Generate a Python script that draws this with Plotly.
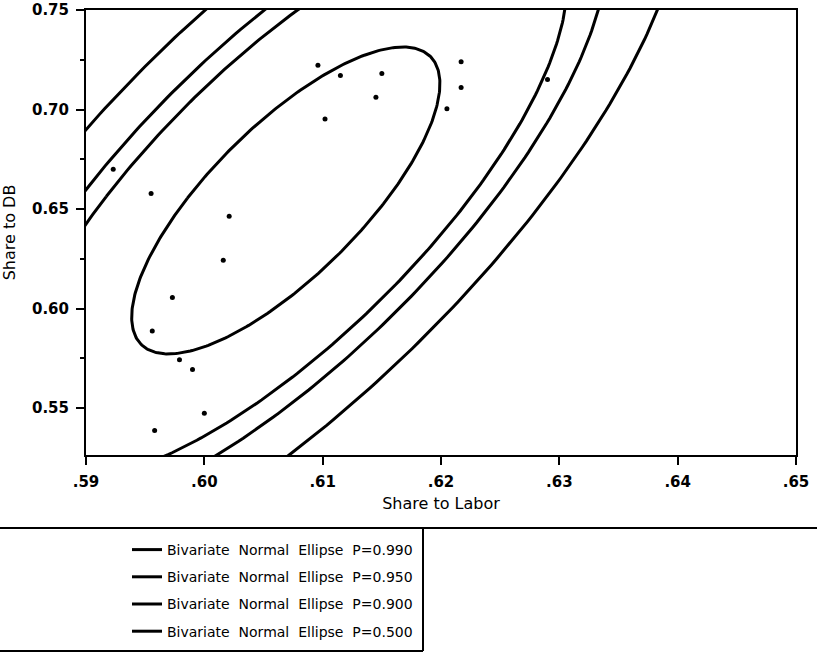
import numpy as np
import plotly.graph_objects as go

# Data
share_labor = [0.5923, 0.5955, 0.6021, 0.6096, 0.6115, 0.6150, 0.6145, 0.6102,
               0.6217, 0.6217, 0.6205, 0.6290, 0.6016, 0.5973, 0.5956, 0.5979,
               0.5990, 0.6000, 0.5958]
share_db = [0.670, 0.6578, 0.6464, 0.7222, 0.7171, 0.7181, 0.7061, 0.6952,
            0.7240, 0.7111, 0.7004, 0.7151, 0.6242, 0.6055, 0.5887, 0.5743,
            0.5693, 0.5474, 0.5387]
probabilities = [0.990, 0.950, 0.900, 0.500]
x_tick_vals = [0.59, 0.60, 0.61, 0.62, 0.63, 0.64, 0.65]
x_tick_text = [".59", ".60", ".61", ".62", ".63", ".64", ".65"]
y_tick_vals = [0.55, 0.60, 0.65, 0.70, 0.75]
y_tick_text = ["0.55", "0.60", "0.65", "0.70", "0.75"]

FONT = "DejaVu Sans, Liberation Sans, sans-serif"

# Bivariate normal ellipses from sample mean & covariance
xy = np.vstack([share_labor, share_db])
mu = xy.mean(axis=1)
cov = np.cov(xy)
vals, vecs = np.linalg.eigh(cov)
t = np.linspace(0, 2 * np.pi, 400)
circle = np.vstack([np.cos(t), np.sin(t)])

fig = go.Figure()
for p in probabilities:
    r = np.sqrt(-2 * np.log(1 - p))
    pts = vecs @ (np.sqrt(vals)[:, None] * circle) * r + mu[:, None]
    fig.add_trace(go.Scatter(
        x=pts[0], y=pts[1], mode="lines",
        line=dict(color="black", width=3),
        name=f"Bivariate  Normal  Ellipse  P={p:.3f}",
        legendgroup=str(p),
    ))

fig.add_trace(go.Scatter(
    x=share_labor, y=share_db, mode="markers",
    marker=dict(color="black", size=5),
    showlegend=False,
))

PL, PR, PT, PB = 86, 796, 10, 455   # plot area in pixels
PW, PH = PR - PL, PB - PT


def px_x(x):
    return (x - PL) / PW


def px_y(y):
    return (PB - y) / PH


fig.update_layout(
    width=817, height=657,
    margin=dict(l=PL, r=817 - PR, t=PT, b=657 - PB, autoexpand=False),
    paper_bgcolor="white", plot_bgcolor="white",
    font=dict(family=FONT, color="black", size=14),
    showlegend=True,
    legend=dict(
        x=px_x(127), y=px_y(534),
        xanchor="left", yanchor="top",
        font=dict(family=FONT, size=14, color="black"),
        tracegroupgap=6,
        bgcolor="rgba(0,0,0,0)",
    ),
    xaxis=dict(
        range=[0.59, 0.65], tickvals=x_tick_vals, ticktext=x_tick_text,
        ticks="outside", ticklen=8, tickwidth=2, tickcolor="black",
        ticklabelstandoff=4,
        showline=True, linecolor="black", linewidth=2, mirror=True,
        showgrid=False, zeroline=False,
        tickfont=dict(family=FONT, size=15, color="black", weight="bold"),
        title=dict(text="Share to Labor", font=dict(family=FONT, size=16), standoff=8),
    ),
    yaxis=dict(
        range=[0.5264, 0.75], tickvals=y_tick_vals, ticktext=y_tick_text,
        ticks="outside", ticklen=8, tickwidth=2, tickcolor="black",
        ticklabelstandoff=4,
        minor=dict(dtick=0.025, tick0=0.5, ticks="outside", ticklen=4, tickwidth=2, tickcolor="black"),
        showline=True, linecolor="black", linewidth=2, mirror=True,
        showgrid=False, zeroline=False,
        tickfont=dict(family=FONT, size=15, color="black", weight="bold"),
        title=dict(text="Share to DB", font=dict(family=FONT, size=16), standoff=12),
    ),
    shapes=[
        dict(type="line", xref="paper", yref="paper",
             x0=px_x(0), x1=px_x(817), y0=px_y(528), y1=px_y(528),
             line=dict(color="black", width=2)),
        dict(type="line", xref="paper", yref="paper",
             x0=px_x(423), x1=px_x(423), y0=px_y(528), y1=px_y(651),
             line=dict(color="black", width=2)),
        dict(type="line", xref="paper", yref="paper",
             x0=px_x(0), x1=px_x(423), y0=px_y(651), y1=px_y(651),
             line=dict(color="black", width=2)),
    ],
)

fig.write_html("out.html", config={"displayModeBar": False},
               post_script="document.body.style.margin='0px';")
